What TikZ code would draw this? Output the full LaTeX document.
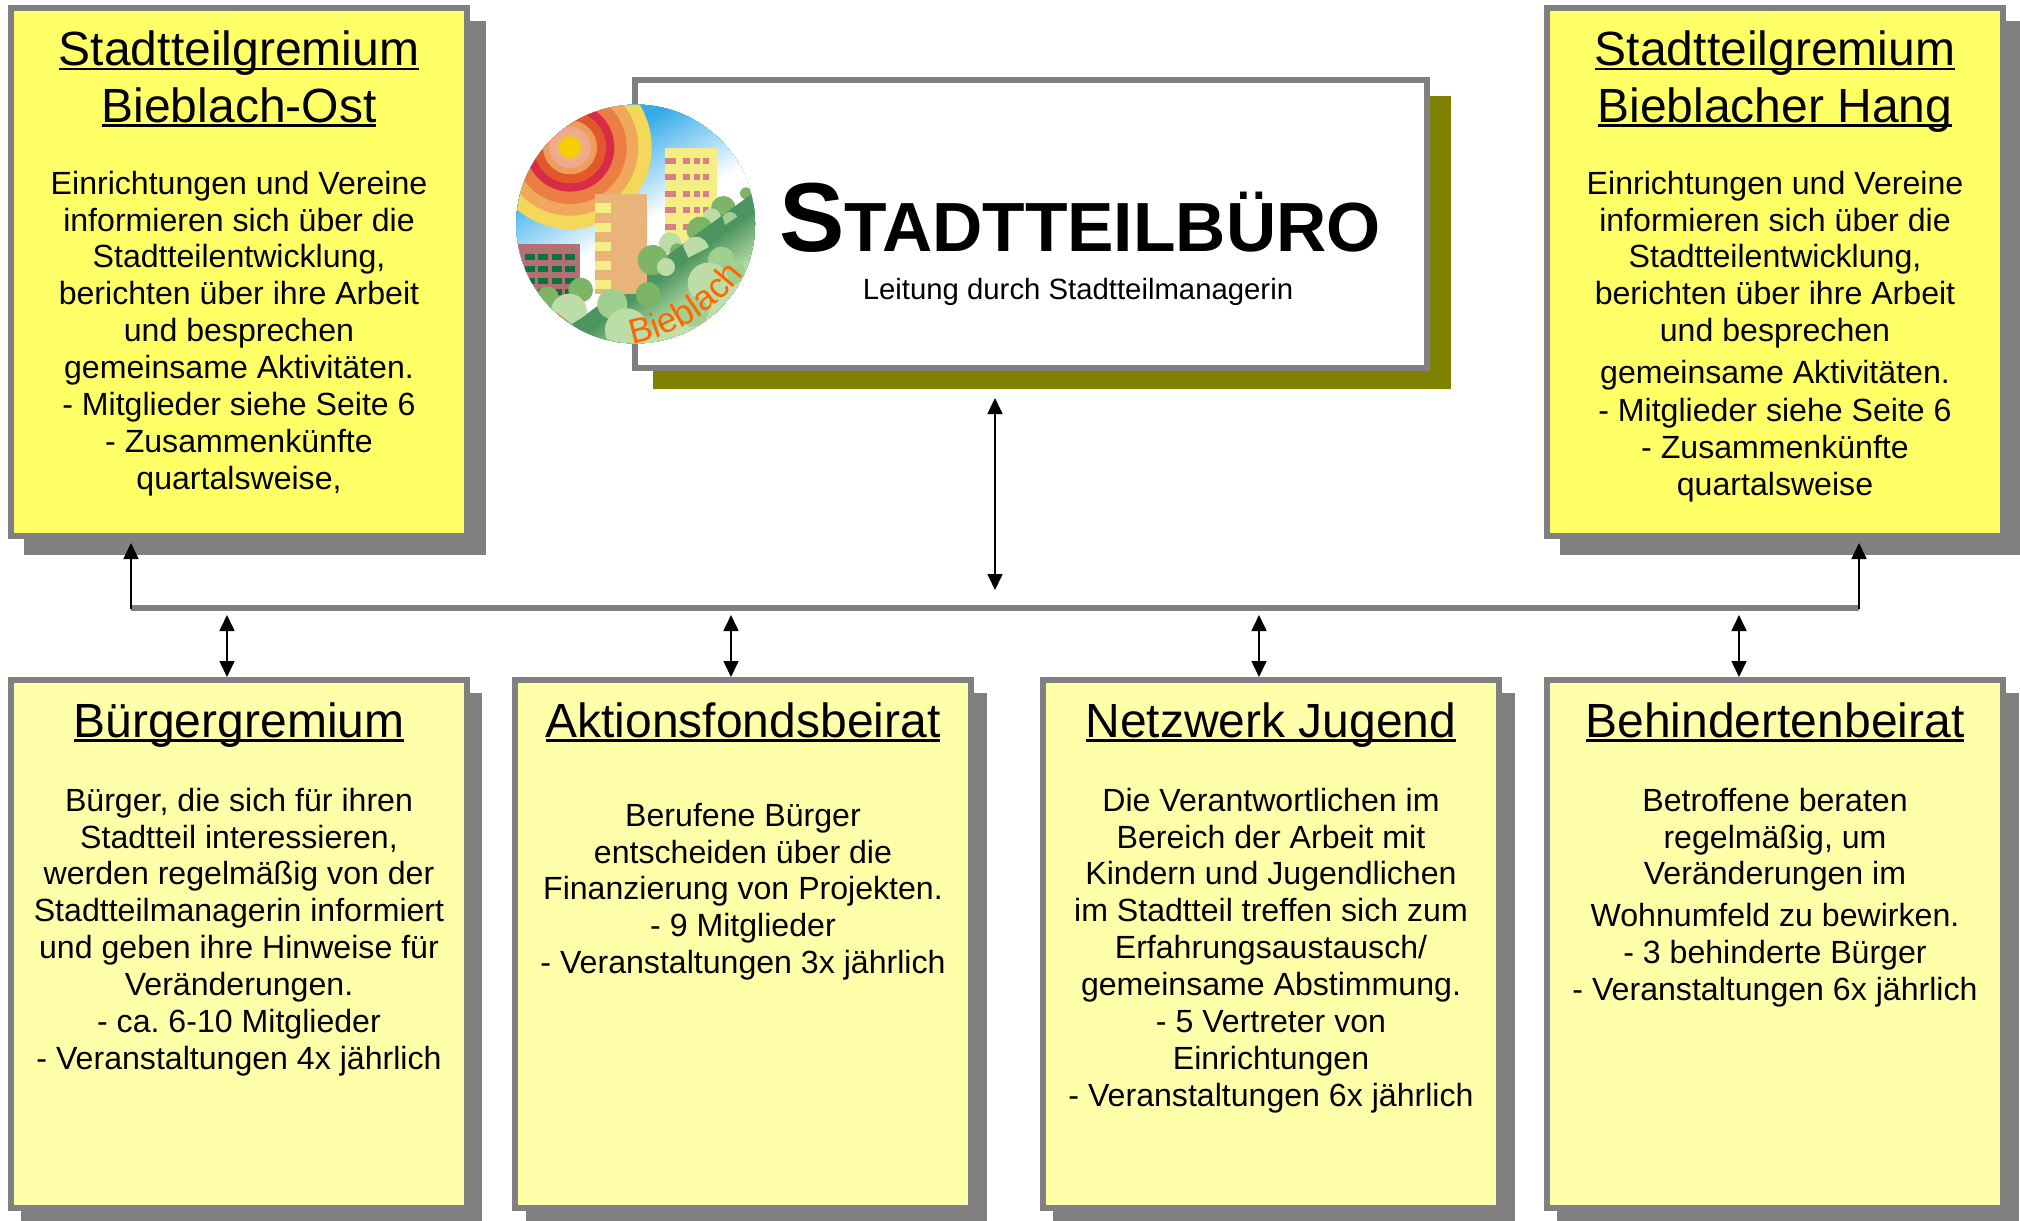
\documentclass[tikz,border=0pt]{standalone}
\usepackage{fontspec}
\setmainfont{Liberation Sans}
\usetikzlibrary{arrows.meta,decorations.text}
\definecolor{framegray}{HTML}{808080}
\definecolor{upfill}{HTML}{FFFF66}
\definecolor{lowfill}{HTML}{FFFFAA}
\definecolor{olivesh}{HTML}{808000}
\definecolor{skyb}{HTML}{35ACE9}
\definecolor{hilld}{HTML}{4C9560}
\definecolor{hilll}{HTML}{BFE0A8}
\definecolor{bushm}{HTML}{7DB465}
\definecolor{bushl}{HTML}{BDDDA8}
\definecolor{bushn}{HTML}{A0CF90}
\newcommand\ttlu[1]{\setbox0=\hbox{#1}\rlap{\rule[-2.4pt]{\wd0}{1.2pt}}\box0}
\newcommand\fl{\rule{0pt}{10pt}}
\frenchspacing
\tikzset{
  panelbox/.style={draw=framegray,line width=3pt,inner sep=0pt,outer sep=1.5pt,anchor=north west},
  uppanel/.style={panelbox,fill=upfill,minimum width=228pt,minimum height=264pt},
  lowpanel/.style={panelbox,fill=lowfill,minimum width=228pt,minimum height=264pt},
  paneltitle/.style={anchor=base,align=center,inner sep=0pt,font=\fontsize{24}{28.4}\selectfont},
  paneltext/.style={anchor=north,align=center,inner sep=0pt,font=\fontsize{16.05}{18.45}\selectfont},
  dbl/.style={{Triangle[width=7.5pt,length=8pt]}-{Triangle[width=7.5pt,length=8pt]},line width=.8pt,black},
  sgl/.style={-{Triangle[width=7.5pt,length=8pt]},line width=.8pt,black},
  bus/.style={framegray,line width=3pt,line cap=butt},
}
\begin{document}
\begin{tikzpicture}[x=.5pt,y=-.5pt]
\useasboundingbox (0,0) rectangle (2020,1221);
% shadows
\fill[framegray] (24,21) rectangle (486,555);
\fill[framegray] (1560,21) rectangle (2020,555);
\fill[framegray] (21,693) rectangle (482,1221);
\fill[framegray] (526,693) rectangle (987,1221);
\fill[framegray] (1053,693) rectangle (1515,1221);
\fill[framegray] (1557,693) rectangle (2019,1221);
\fill[olivesh] (653,96) rectangle (1451,389);
% panels
\node[uppanel] (ost) at (8,5) {};
\node[uppanel] (hang) at (1544,5) {};
\node[lowpanel] (buerger) at (8,677) {};
\node[lowpanel] (aktion) at (512,677) {};
\node[lowpanel] (jugend) at (1040,677) {};
\node[lowpanel] (behind) at (1544,677) {};
\node[panelbox,fill=white,minimum width=396pt,minimum height=144pt] (buero) at (632,77) {};
% logo
\begin{scope}[shift={(490,60)},x=.16667pt,y=-.16667pt]
\clip (437,492) circle[radius=358];
\begin{scope}[shift={(437,492)},rotate=30]
\foreach \t in {-420,-410,...,20}{
  \pgfmathsetmacro\p{max(0,min(100,(\t+260)/2.7))}
  \fill[white!\p!skyb] (-600,\t) rectangle (600,500);
}
\end{scope}
\foreach \r/\c in {245/F3D85A,205/EFA85C,170/EB7D45,133/D92B45,108/E2582B,81/EE9E5C,62/F0A890,45/EDB37E,32/F7CE00}{
  \definecolor{tmpc}{HTML}{\c}
  \fill[tmpc] (240,262) circle[radius=\r];
}
% yellow block
\fill[fill={rgb,255:red,245;green,238;blue,133}] (524,265) rectangle (680,560);
\foreach \yy in {293,343,393,442,493}{
  \foreach \xa/\xb in {524/558,579/600,611/629,640/658}{
    \fill[fill={rgb,255:red,213;green,128;blue,138}] (\xa,\yy) rectangle (\xb,\yy+18);
  }
}
% brown block
\fill[fill={rgb,255:red,179;green,111;blue,114}] (85,552) rectangle (270,800);
\foreach \yy in {581,618,653,688}{
  \foreach \xa in {105,145,186,226}{
    \fill[fill={rgb,255:red,11;green,113;blue,64}] (\xa,\yy) rectangle (\xa+29,\yy+18);
  }
}
% bushes behind the hill
\fill[bushm] (768,400) circle[radius=18];
\fill[bushm] (700,445) circle[radius=37];
\fill[bushl] (665,472) circle[radius=27];
\fill[bushl] (540,550) circle[radius=33];
\fill[bushm] (630,510) circle[radius=40];
\fill[bushm] (562,572) circle[radius=22];
% hill
\begin{scope}[shift={(795,395)},rotate=36]
\foreach \t in {0,10,...,220}{
  \pgfmathsetmacro\p{max(0,min(100,(\t-40)/1.3))}
  \fill[hilll!\p!hilld] (-1000,\t) rectangle (300,900);
}
\end{scope}
% peach block
\fill[fill={rgb,255:red,232;green,180;blue,122}] (316,402) rectangle (470,703);
\foreach \yy in {430,488,546,603,660}{
  \fill[fill={rgb,255:red,245;green,238;blue,133}] (316,\yy) rectangle (363,\yy+28);
}
% front bushes
\begin{scope}
\clip (695,450) -- (745,450) -- (745,468) -- (705,495) -- (698,470) -- cycle;
\fill[bushn] (720,480) circle[radius=24];
\end{scope}
\begin{scope}
\clip (570,520) -- (660,520) -- (660,560) -- (595,593) -- (580,560) -- cycle;
\fill[bushl] (617,570) circle[radius=40];
\end{scope}
\fill[bushm] (488,600) circle[radius=45];
\fill[bushl] (528,621) circle[radius=27];
\fill[bushn] (694,600) circle[radius=40];
\fill[bushn] (725,635) circle[radius=40];
\fill[bushl] (655,670) circle[radius=62];
\fill[bushn] (610,755) circle[radius=45];
\fill[bushm] (474,703) circle[radius=37];
\fill[bushm] (272,690) circle[radius=37];
\fill[bushm] (173,712) circle[radius=33];
\fill[bushn] (367,732) circle[radius=45];
\fill[bushl] (410,810) circle[radius=65];
\begin{scope}
\clip (170,690) -- (300,690) -- (300,757) -- (245,792) -- (183,745) -- cycle;
\fill[bushl] (237,755) circle[radius=54];
\end{scope}
\path[decorate,decoration={text along path,text color={rgb,255:red,255;green,102;blue,0},text={|\fontsize{17.5}{20}\selectfont|Bieblach},text align=left}]
  (428,852) .. controls (530,835) and (670,770) .. (768,635);
\end{scope}
% central text
\node[anchor=base,inner sep=0pt,font=\bfseries] (bueroname) at (1080,251) {\fontsize{49}{49}\selectfont S\fontsize{34.8}{35}\selectfont TADTTEILBÜRO};
\node[anchor=base,inner sep=0pt,font=\fontsize{14.66}{17}\selectfont] (buerosub) at (1078,299) {Leitung durch Stadtteilmanagerin};
% titles
\node[paneltitle] (t1) at (239,122) {\ttlu{Stadtteilgremium}\\\ttlu{Bieblach-Ost}};
\node[paneltitle] (t2) at (1775,122) {\ttlu{Stadtteilgremium}\\\ttlu{Bieblacher Hang}};
\node[paneltitle] (t3) at (239,737) {\ttlu{Bürgergremium}};
\node[paneltitle] (t4) at (743,737) {\ttlu{Aktionsfondsbeirat}};
\node[paneltitle] (t5) at (1271,737) {\ttlu{Netzwerk Jugend}};
\node[paneltitle] (t6) at (1775,737) {\ttlu{Behindertenbeirat}};
% texts
\node[paneltext] (x1) at (239,170.5) {\fl Einrichtungen und Vereine\\informieren sich über die\\Stadtteilentwicklung,\\berichten über ihre Arbeit\\und besprechen\\gemeinsame Aktivitäten.\\- Mitglieder siehe Seite 6\\- Zusammenkünfte\\quartalsweise,};
\node[paneltext] (x2) at (1775,170.5) {\fl Einrichtungen und Vereine\\informieren sich über die\\Stadtteilentwicklung,\\berichten über ihre Arbeit\\und besprechen\\[2.2pt]gemeinsame Aktivitäten.\\[.9pt]- Mitglieder siehe Seite 6\\- Zusammenkünfte\\quartalsweise};
\node[paneltext] (x3) at (239,787.5) {\fl Bürger, die sich für ihren\\Stadtteil interessieren,\\werden regelmäßig von der\\Stadtteilmanagerin informiert\\und geben ihre Hinweise für\\Veränderungen.\\- ca. 6-10 Mitglieder\\- Veranstaltungen 4x jährlich};
\node[paneltext] (x4) at (743,802.5) {\fl Berufene Bürger\\entscheiden über die\\Finanzierung von Projekten.\\- 9 Mitglieder\\- Veranstaltungen 3x jährlich};
\node[paneltext] (x5) at (1271,787.5) {\fl Die Verantwortlichen im\\Bereich der Arbeit mit\\Kindern und Jugendlichen\\im Stadtteil treffen sich zum\\Erfahrungsaustausch/\\gemeinsame Abstimmung.\\- 5 Vertreter von\\Einrichtungen\\- Veranstaltungen 6x jährlich};
\node[paneltext] (x6) at (1775,787.5) {\fl Betroffene beraten\\regelmäßig, um\\Veränderungen im\\[2.2pt]Wohnumfeld zu bewirken.\\- 3 behinderte Bürger\\- Veranstaltungen 6x jährlich};
% connectors
\coordinate (busL) at (131,608);
\coordinate (busR) at (1859,608);
\coordinate (tipL) at (131,543);
\coordinate (tipR) at (1859,543);
\coordinate (cTop) at (995,398);
\coordinate (cBot) at (995,590);
\draw[bus] (busL) -- (busR);
\draw[sgl] ([yshift=-.5pt]busL) -- (tipL);
\draw[sgl] ([yshift=-.5pt]busR) -- (tipR);
\draw[dbl] (cTop) -- (cBot);
\coordinate (a1) at (227,615);
\coordinate (a2) at (731,615);
\coordinate (a3) at (1259,615);
\coordinate (a4) at (1739,615);
\draw[dbl] (a1) -- (a1 |- buerger.north);
\draw[dbl] (a2) -- (a2 |- aktion.north);
\draw[dbl] (a3) -- (a3 |- jugend.north);
\draw[dbl] (a4) -- (a4 |- behind.north);
\end{tikzpicture}
\end{document}
